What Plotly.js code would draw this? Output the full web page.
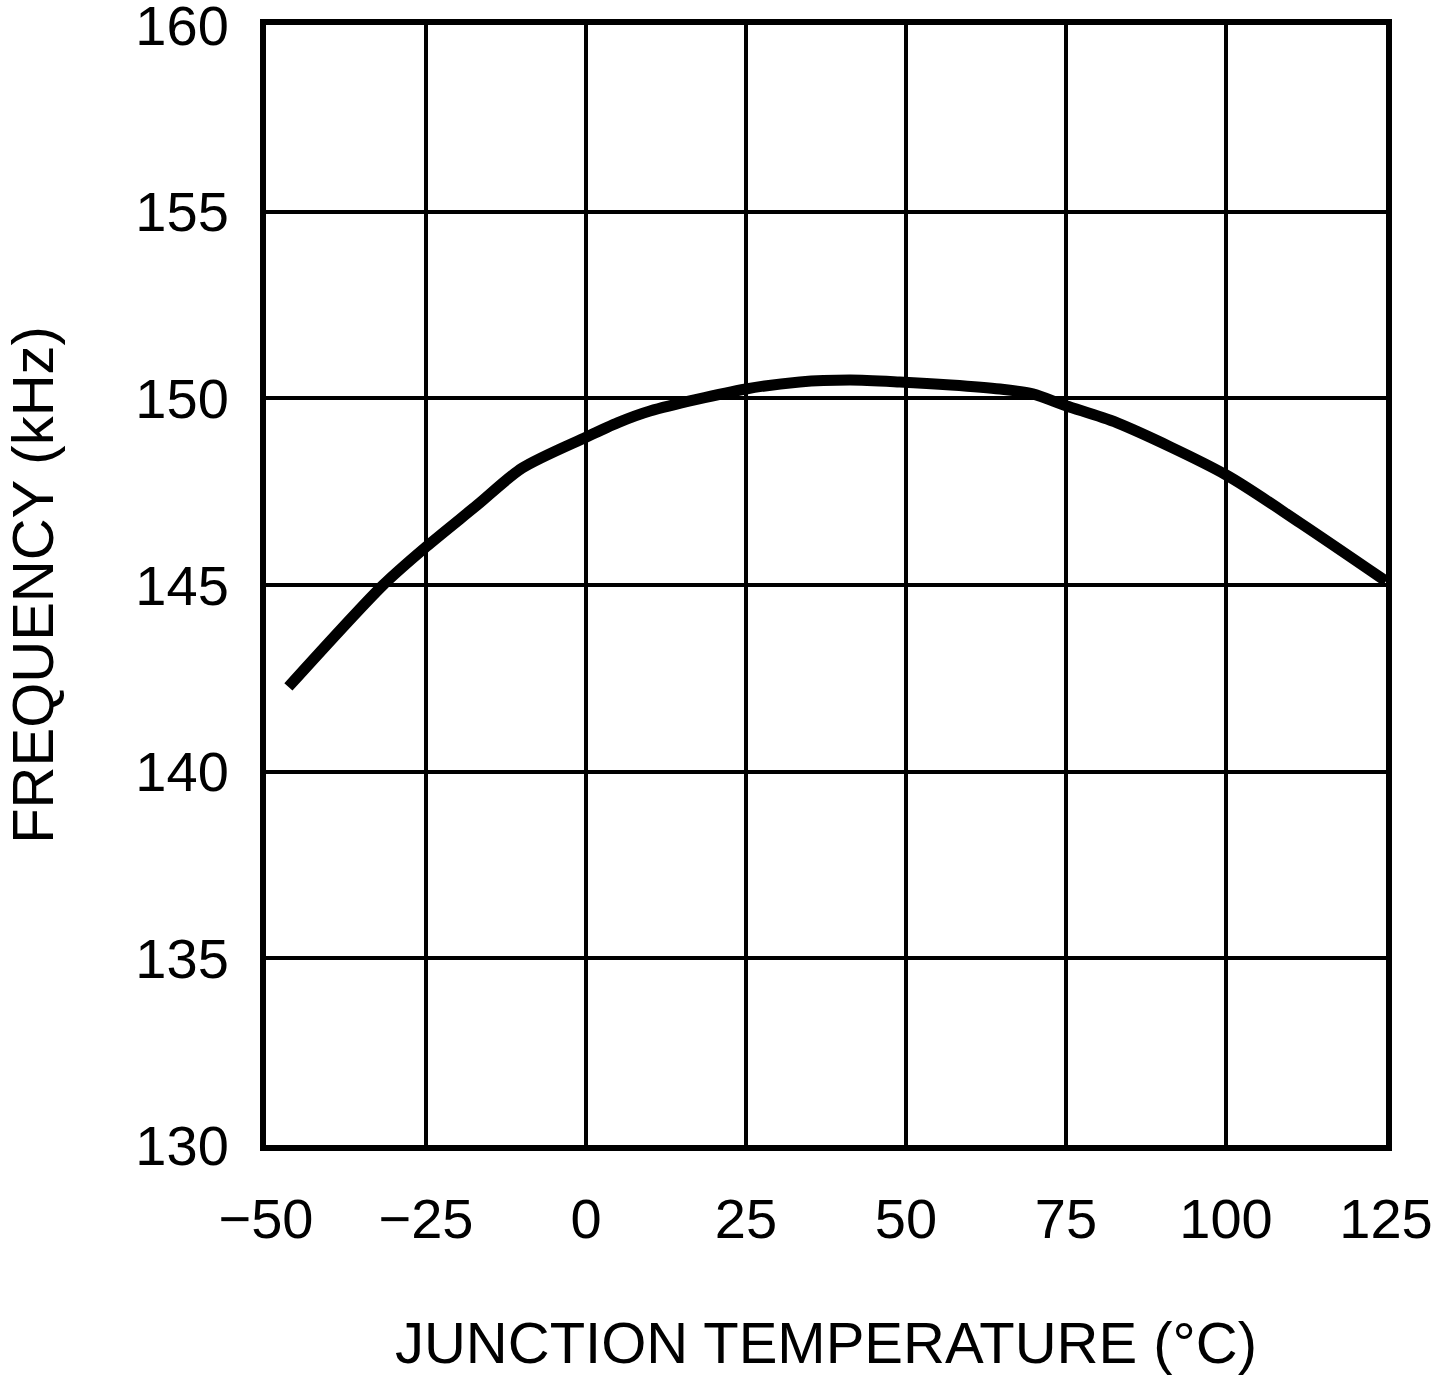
<!DOCTYPE html>
<html>
<head>
<meta charset="utf-8">
<script src="https://cdn.plot.ly/plotly-3.0.1.min.js"></script>
<style>
  html, body { margin: 0; padding: 0; background: #fff; }
  #chart { width: 1434px; height: 1375px; }
</style>
</head>
<body>
<div id="chart"></div>
<script>
// Junction temperature (°C)
const temperature = [-46.5, -31.7, -25, -17, -10, 0, 5, 10, 25, 33.4, 41.3, 49, 57, 64.7, 69.8, 75, 83, 100, 111.6, 125];
// Frequency (kHz)
const frequency = [142.27, 145.0, 146.02, 147.14, 148.13, 148.96, 149.35, 149.66, 150.25, 150.44, 150.49, 150.44, 150.36, 150.25, 150.12, 149.8, 149.34, 147.95, 146.66, 145.1];

const xTickVals = [-50, -25, 0, 25, 50, 75, 100, 125];
const xTickText = ['\u221250', '\u221225', '0', '25', '50', '75', '100', '125'];
const yTickVals = [130, 135, 140, 145, 150, 155, 160];
const yTickText = ['130', '135', '140', '145', '150', '155', '160'];

const FONT = 'Liberation Sans, Arial, sans-serif';

const trace = {
  x: temperature,
  y: frequency,
  type: 'scatter',
  mode: 'lines',
  line: { color: '#000', width: 11, shape: 'spline', smoothing: 0.8 },
  hoverinfo: 'skip',
  cliponaxis: false
};

const layout = {
  width: 1434,
  height: 1375,
  paper_bgcolor: '#fff',
  plot_bgcolor: '#fff',
  showlegend: false,
  margin: { l: 266, r: 48, t: 25, b: 230, pad: 0 },
  font: { family: FONT, color: '#000', size: 56 },
  xaxis: {
    range: [-50, 125],
    tickmode: 'array',
    tickvals: xTickVals,
    ticktext: xTickText,
    showgrid: true,
    gridcolor: '#000',
    gridwidth: 4,
    zeroline: false,
    showline: true,
    linecolor: '#000',
    linewidth: 6,
    mirror: true,
    ticks: 'outside',
    ticklen: 20,
    tickcolor: 'rgba(0,0,0,0)',
    tickfont: { family: FONT, size: 56, color: '#000' },
    ticklabeloverflow: 'allow',
    automargin: false,
    title: {
      text: 'JUNCTION TEMPERATURE (°C)',
      font: { family: FONT, size: 58, color: '#000' },
      standoff: 92
    }
  },
  yaxis: {
    range: [130, 160],
    tickmode: 'array',
    tickvals: yTickVals,
    ticktext: yTickText,
    showgrid: true,
    gridcolor: '#000',
    gridwidth: 4,
    zeroline: false,
    showline: true,
    linecolor: '#000',
    linewidth: 6,
    mirror: true,
    ticks: 'outside',
    ticklen: 20,
    tickcolor: 'rgba(0,0,0,0)',
    tickfont: { family: FONT, size: 56, color: '#000' },
    ticklabeloverflow: 'allow',
    automargin: false,
    title: {
      text: 'FREQUENCY (kHz)',
      font: { family: FONT, size: 58, color: '#000' },
      standoff: 65
    }
  }
};

Plotly.newPlot('chart', [trace], layout, { staticPlot: true, displayModeBar: false });
</script>
</body>
</html>
